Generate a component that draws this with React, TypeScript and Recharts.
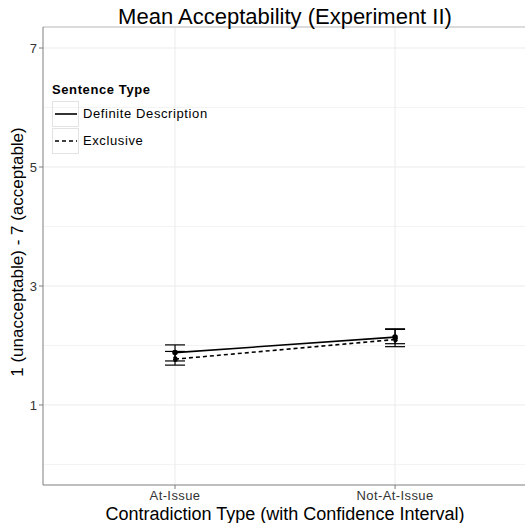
import {
  LineChart,
  Line,
  XAxis,
  YAxis,
  ReferenceLine,
  ErrorBar,
} from 'recharts';

const categories = ['At-Issue', 'Not-At-Issue'];

// Definite Description
const ddMean = [1.88, 2.14];
const ddLow = [1.74, 1.98];
const ddHigh = [2.01, 2.28];

// Exclusive
const exMean = [1.77, 2.1];
const exLow = [1.67, 2.03];
const exHigh = [1.9, 2.27];

const majorTicks = [1, 3, 5, 7];
const minorTicks = [0, 2, 4, 6];

const FONT = '"Liberation Sans", Arial, sans-serif';

const chartData = categories.map((c, i) => ({
  x: i + 1,
  name: c,
  dd: ddMean[i],
  ddErr: [ddMean[i] - ddLow[i], ddHigh[i] - ddMean[i]],
  ex: exMean[i],
  exErr: [exMean[i] - exLow[i], exHigh[i] - exMean[i]],
}));

function LegendBox() {
  const row = (label: string, dash?: string) => (
    <div style={{ display: 'flex', alignItems: 'center', height: 27 }}>
      <div
        style={{
          width: 27,
          height: 26,
          border: '1px solid #e3e3e3',
          boxSizing: 'border-box',
          display: 'flex',
          alignItems: 'center',
          justifyContent: 'center',
        }}
      >
        <svg width={24} height={4}>
          <line x1={1} y1={2} x2={23} y2={2} stroke="#000" strokeWidth={1.6} strokeDasharray={dash} />
        </svg>
      </div>
      <span style={{ marginLeft: 4, fontSize: 13, letterSpacing: 0.6, color: '#000' }}>{label}</span>
    </div>
  );
  return (
    <div style={{ position: 'absolute', left: 52, top: 82, fontFamily: FONT }}>
      <div style={{ fontSize: 13, letterSpacing: 0.6, fontWeight: 'bold', marginBottom: 3 }}>Sentence Type</div>
      {row('Definite Description')}
      {row('Exclusive', '4 3')}
    </div>
  );
}

export default function App() {
  return (
    <div style={{ position: 'absolute', left: 0, top: 0, width: 525, height: 523, background: '#fff', overflow: 'hidden' }}>
      <style>{'html, body { margin: 0; overflow: hidden; }'}</style>
      <LineChart
        width={535}
        height={523}
        data={chartData}
        margin={{ top: 27, right: 0, left: 0, bottom: 0 }}
        style={{ fontFamily: FONT }}
      >
        {minorTicks.map((t) => (
          <ReferenceLine key={'mi' + t} y={t} stroke="#f3f3f3" strokeWidth={1} />
        ))}
        {majorTicks.map((t) => (
          <ReferenceLine key={'ma' + t} y={t} stroke="#ebebeb" strokeWidth={1} />
        ))}
        {[1, 2].map((t) => (
          <ReferenceLine key={'v' + t} x={t} stroke="#ebebeb" strokeWidth={1} />
        ))}
        <ReferenceLine y={7.353} stroke="#cfcfcf" strokeWidth={1.5} />
        <XAxis
          dataKey="x"
          type="number"
          domain={[0.4, 2.636]}
          ticks={[1, 2]}
          allowDataOverflow
          tickFormatter={(v: number) => categories[v - 1] ?? ''}
          height={38}
          stroke="#7f7f7f"
          tickSize={4}
          tick={{ fill: '#333', fontSize: 13, letterSpacing: 0.4 }}
          tickMargin={2}
        />
        <YAxis
          type="number"
          domain={[-0.345, 7.353]}
          ticks={majorTicks}
          allowDataOverflow
          width={43}
          stroke="#7f7f7f"
          tickSize={4}
          tick={{ fill: '#333', fontSize: 13 }}
          tickMargin={2}
        />
        <Line
          dataKey="dd"
          stroke="#000"
          strokeWidth={1.6}
          dot={{ r: 2, fill: '#000', stroke: '#000' }}
          isAnimationActive={false}
        >
          <ErrorBar dataKey="ddErr" width={10} stroke="#000" strokeWidth={1.2} direction="y" />
        </Line>
        <Line
          dataKey="ex"
          stroke="#000"
          strokeWidth={1.6}
          strokeDasharray="4 3"
          dot={{ r: 2, fill: '#000', stroke: '#000' }}
          isAnimationActive={false}
        >
          <ErrorBar dataKey="exErr" width={10} stroke="#000" strokeWidth={1.2} direction="y" />
        </Line>
      </LineChart>
      <svg
        width={525}
        height={523}
        style={{ position: 'absolute', left: 0, top: 0, pointerEvents: 'none', fontFamily: FONT }}
      >
        <text x={285} y={24} textAnchor="middle" fontSize={22} fill="#000">
          Mean Acceptability (Experiment II)
        </text>
        <text x={285} y={520} textAnchor="middle" fontSize={18} fill="#000">
          Contradiction Type (with Confidence Interval)
        </text>
        <text
          x={0}
          y={0}
          transform="translate(23,252) rotate(-90)"
          textAnchor="middle"
          fontSize={17}
          fill="#000"
        >
          1 (unacceptable) - 7 (acceptable)
        </text>
      </svg>
      <LegendBox />
    </div>
  );
}
